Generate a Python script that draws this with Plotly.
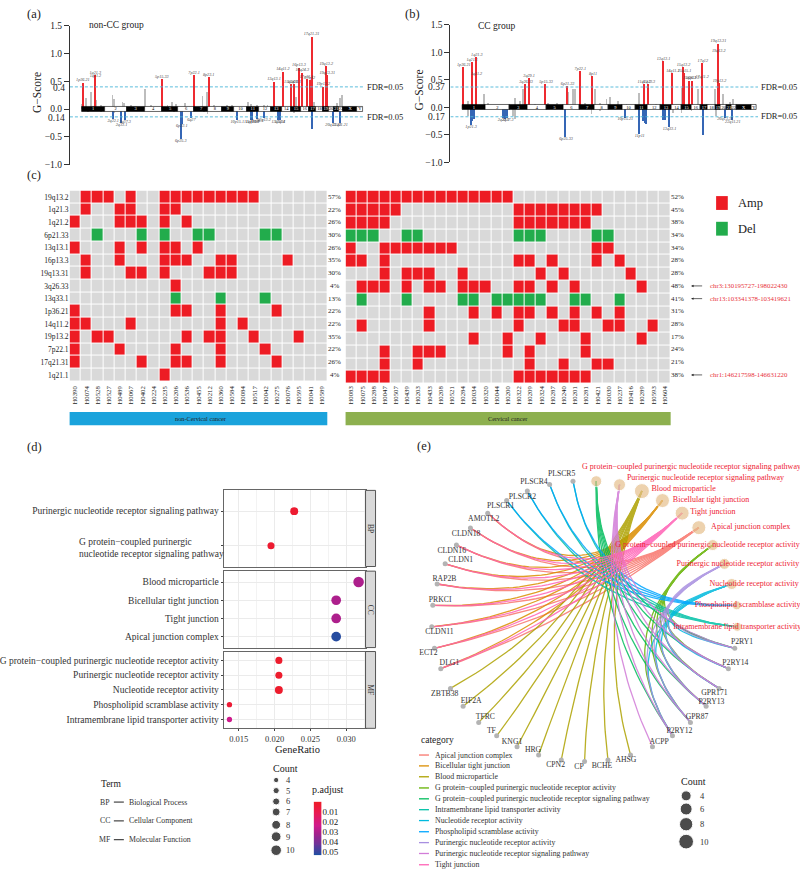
import numpy as np
import plotly.graph_objects as go

W, H = 800, 875
SERIF = "Liberation Serif"

# ---------- panels (a) and (b): genome profile ----------
CHROM_NAMES = [str(i) for i in range(1, 23)] + ["X", "Y"]
CHROM_MB = [249, 243, 198, 191, 181, 171, 159, 146, 141, 136, 135, 134, 115, 107, 103, 90, 81, 78, 59, 63, 48, 51, 155, 59]

A_RED_POS = [11, 147, 149, 880, 1236, 1397, 2116, 2215, 2303, 2340, 2391, 2428, 2475, 2512, 2530, 2659, 2692, 2703]
A_RED_VAL = [.48, .62, .55, .54, .62, .58, .5, .68, .45, .45, .75, .66, .54, .52, 1.31, .41, .78, .62]
A_RED_LAB = ["1p36.21", "1q21.3", "1q21.2", "5p15.33", "7p22.1", "8p23.1", "13q13.1", "14q11.2", "15q24.3", "15q26.1",
             "16p13.3", "16q24.3", "17p13.1", "17q12", "17q21.31", "19p13.2", "19q13.2", "19q13.31"]
A_BLUE_POS = [345, 436, 477, 1089, 1100, 1206, 1712, 1859, 1878, 1925, 2006, 2163, 2182, 2538, 2769, 2846]
A_BLUE_VAL = [-.17, -.25, -.2, -.53, -.26, -.155, -.2, -.2, -.2, -.17, -.155, -.2, -.19, -.345, -.245, -.25]
A_BLUE_LAB = ["2q22.1", "2q33.1", "2q37.3", "6p25.3", "6p22.1", "6q27", "10p15.1", "11q13.3", "11q13.4", "11q24.3",
              "12q13.2", "13q33.1", "13q34", "", "20q13.33", "22q11.21"]
A_GREY_POS = [0, 44, 103, 161, 209, 337, 356, 447, 466, 539, 697, 759, 887, 942, 990, 1034, 1137, 1327, 1375, 1456, 1602,
              1657, 1826, 1859, 1932, 2006, 2043, 2299, 2354, 2391, 2483, 2556, 2703, 2813, 2842, 2864,
              62, 209, 356, 1016, 1346, 1382, 1896, 2336, 2776]
A_GREY_VAL = [.1, .21, .31, .16, .07, .26, .18, .14, .12, .07, .37, .07, .1, .08, .13, .1, .11, .24, .32, .07, .08,
              .08, .13, .1, .08, .07, .07, .21, .23, .1, .13, .13, .29, .11, .2, .26,
              -.05, -.04, -.07, -.04, -.05, -.08, -.05, -.07, -.05]

B_RED_POS = [17, 105, 154, 150, 671, 703, 881, 1108, 1241, 1374, 1913, 1958, 2115, 2213, 2325, 2336, 2388, 2420, 2521, 2528, 2692, 2695, 2703]
B_RED_VAL = [.73, .83, .92, .57, .42, .54, .43, .39, .66, .57, .42, .42, .85, .63, .74, .63, .49, .49, .51, .81, 1.16, .99, .45]
B_RED_LAB = ["1p36.21", "1q21.1", "1q21.3", "1q21.2", "3q26.33", "3q29.1", "5p15.33", "6p21.33", "7p22.1", "8p11", "11q13.2",
             "11q13.3", "13q13.1", "14q11.2", "15q13.2", "15q15.1", "15q26.1", "16p13.3", "17q11.2", "17q12", "19q13.31", "19q13.2", "19p13.2"]
B_BLUE_POS = [94, 108, 129, 434, 455, 479, 1091, 1713, 1864, 1906, 1923, 1941, 2115, 2133, 2178, 2535, 2762, 2843]
B_BLUE_VAL = [-.31, -.24, -.21, -.19, -.21, -.19, -.54, -.18, -.48, -.24, -.27, -.3, -.22, -.22, -.35, -.5, -.18, -.23]
B_BLUE_LAB = ["1p21.3", "", "", "2q33.1", "", "2q37.3", "6p25.33", "10p15.21", "11p11", "", "", "", "", "", "13q33.1", "", "20q13.33", "22q11.21"]
B_GREY_POS = [17, 70, 234, 280, 559, 612, 647, 664, 769, 909, 997, 1119, 1171, 1192, 1294, 1399, 1451, 1521, 1556, 1643, 1731,
              1864, 2045, 2308, 2483, 2587, 2657, 2745, 2815, 2850,
              70, 542, 559, 1364, 1451, 2220, 2308, 2413, 2675]
B_GREY_VAL = [.21, .12, .24, .09, .18, .12, .33, .36, .06, .08, .08, .29, .33, .33, .09, .33, .09, .15, .2, .12, .06,
              .27, .06, .36, .33, .07, .33, .24, .11, .15,
              -.15, -.15, -.2, -.12, -.07, -.09, -.09, -.06, -.15]

# ---------- panel (c): heat maps ----------
CYTOBANDS = ["19q13.2", "1q21.3", "1q21.2", "6p21.33", "13q13.1", "16p13.3", "19q13.31", "3q26.33", "13q33.1",
             "1p36.21", "14q11.2", "19p13.2", "7p22.1", "17q21.31", "1q21.1"]
DELETION_BANDS = ["6p21.33", "13q33.1"]
LEFT_SAMPLES = ["H0390", "H0074", "H0528", "H0527", "H0489", "H0067", "H0402", "H0224", "H0235", "H0206", "H0536", "H0455",
                "H0212", "H0360", "H0584", "H0084", "H0517", "H0042", "H0275", "H0076", "H0595", "H0041", "H0589"]
RIGHT_SAMPLES = ["H0083", "H0075", "H0288", "H0047", "H0507", "H0439", "H0203", "H0433", "H0208", "H0521", "H0284", "H0034",
                 "H0320", "H0044", "H0200", "H0322", "H0209", "H0324", "H0287", "H0240", "H0201", "H0281", "H0421", "H0030",
                 "H0237", "H0416", "H0289", "H0593", "H0604"]
LEFT_HITS = [[1, 2, 3, 5, 8, 9, 10, 11, 12, 13, 14, 15, 16], [1, 4, 5, 8, 9], [0, 4, 5, 6, 8, 10], [2, 6, 8, 11, 12, 17, 18],
             [0, 4, 6, 8, 9, 11], [1, 4, 8, 9, 10, 13, 14, 19], [1, 5, 6, 8, 12, 13, 14], [9], [9, 13, 17], [0, 9, 10, 13, 18],
             [0, 1, 5, 13, 15], [0, 2, 3, 10, 12, 13, 16, 20], [0, 4, 9, 13, 17], [0, 6, 9, 10, 13, 18], [8]]
RIGHT_HITS = [list(range(15)), [0, 1, 2, 3, 4, 15, 16, 17, 18, 19, 20, 21, 22], [0, 1, 2, 3, 15, 16, 17, 18, 19, 20, 21],
              [0, 1, 2, 5, 6, 15, 16, 17, 22, 23], [0, 3, 4, 5, 6, 7, 8, 9, 22, 23], [0, 1, 3, 15, 16, 18, 22, 24],
              [3, 5, 6, 7, 10, 17, 19, 25], [1, 2, 3, 5, 7, 8, 10, 11, 12, 15, 16, 18, 20, 26],
              [1, 5, 10, 11, 13, 14, 15, 16, 17, 20, 21, 24], [7, 11, 13, 15, 16, 18, 20, 22, 24],
              [1, 7, 15, 19, 20, 23, 24, 27], [11, 14, 17, 21, 26], [3, 6, 7, 8, 14, 16, 21], [3, 6, 16, 19, 22, 23],
              [0, 1, 2, 3, 15, 16, 17, 18, 19, 20, 21]]
LEFT_PCT = ["57%", "22%", "26%", "30%", "26%", "35%", "30%", "4%", "13%", "22%", "22%", "35%", "22%", "26%", "4%"]
RIGHT_PCT = ["52%", "45%", "38%", "34%", "34%", "28%", "28%", "48%", "41%", "31%", "28%", "17%", "24%", "21%", "38%"]
REGION_NOTES = {"3q26.33": "chr3:130195727-198022430", "13q33.1": "chr13:103341378-103419621", "1q21.1": "chr1:146217598-146631220"}

# ---------- panel (d): dot plot ----------
BP_TERMS = ["Purinergic nucleotide receptor signaling pathway", "G protein−coupled purinergic nucleotide receptor signaling pathway"]
BP_RATIO = [.02274, .0195]
BP_COUNT = [7, 6]
BP_PADJ = [.003, .003]
CC_TERMS = ["Blood microparticle", "Bicellular tight junction", "Tight junction", "Apical junction complex"]
CC_RATIO = [.03173, .0286, .0286, .0286]
CC_COUNT = [10, 9, 9, 9]
CC_PADJ = [.03, .03, .03, .052]
MF_TERMS = ["G protein−coupled purinergic nucleotide receptor activity", "Purinergic nucleotide receptor activity",
            "Nucleotide receptor activity", "Phospholipid scramblase activity", "Intramembrane lipid transporter activity"]
MF_RATIO = [.0206, .0206, .0206, .0137, .0137]
MF_COUNT = [6, 6, 7, 4, 4]
MF_PADJ = [.002, .002, .002, .004, .024]
PADJ_TICKS = [.01, .02, .03, .04, .05]

# ---------- panel (e): gene-concept network ----------
GENES = ["PLSCR5", "PLSCR4", "PLSCR2", "PLSCR1", "AMOTL2", "CLDN18", "CLDN16", "CLDN1", "RAP2B", "PRKCI", "CLDN11", "ECT2", "DLG1",
         "ZBTB38", "EIF2A", "TFRC", "TF", "KNG1", "HRG", "CPN2", "CP", "BCHE", "AHSG", "ACPP", "P2RY12", "GPR87", "P2RY13", "GPR171",
         "P2RY14", "P2RY1"]
GENE_X = [572.7, 549.3, 527, 506.3, 487.3, 470, 456, 444.7, 436.7, 432.3, 431.3, 434, 440.3, 450, 462.7, 478.3, 496.3, 516.7, 538.3,
          561, 584.3, 607.7, 630.3, 652.3, 672.3, 690.3, 706, 719, 728.3, 734.7]
GENE_Y = [481.7, 485, 491.7, 501.3, 514, 529, 546.3, 565.3, 585.7, 607.3, 629, 650.7, 671.3, 691.3, 709.3, 725.7, 739.3, 750.3, 758.7,
          763.7, 765.3, 763.7, 758.7, 750.3, 739.3, 725.7, 709.3, 691.3, 671.3, 650.7]
GENE_LABEL_X = [561.3, 533.7, 522, 500.3, 483.3, 465.7, 451.3, 460.3, 444, 439.7, 439, 428, 449, 444.3, 470.7, 485, 491, 511.7, 532.7,
                555.3, 578.7, 601.7, 625.7, 659, 679.3, 697, 711.3, 714.3, 735.3, 742]
GENE_LABEL_Y = [475, 482.3, 497.3, 507.3, 519.7, 534.7, 552, 561.7, 580.3, 601.7, 634.3, 656, 665.7, 697, 704.3, 720.3, 734.3, 745.3,
                753.3, 769.3, 771, 769.7, 764.3, 745.3, 734, 720, 705.3, 695.7, 665.7, 644]
NET_TERMS = ["G protein−coupled purinergic nucleotide receptor signaling pathway", "Purinergic nucleotide receptor signaling pathway",
             "Blood microparticle", "Bicellular tight junction", "Tight junction", "Apical junction complex",
             "G protein−coupled purinergic nucleotide receptor activity", "Purinergic nucleotide receptor activity",
             "Nucleotide receptor activity", "Phospholipid scramblase activity", "Intramembrane lipid transporter activity"]
NET_X = [596, 619.3, 641.7, 662.3, 682, 698.7, 712.7, 724.3, 731.7, 736.7, 737.3]
NET_Y = [481.7, 485.3, 491.7, 501.3, 514, 528.7, 546.3, 565.3, 585.7, 607.3, 629]
NET_COUNT = [6, 7, 10, 9, 9, 9, 6, 6, 6, 4, 4]
NET_LABEL_X = [581.7, 626.7, 651.3, 672.7, 690, 711, 615, 676.3, 709.3, 694.7, 673]
NET_LABEL_Y = [467.7, 478.7, 490, 501, 513.3, 528.3, 546.3, 565.3, 585.7, 607.3, 629]
JUNCTION = ["AMOTL2", "CLDN18", "CLDN16", "CLDN1", "RAP2B", "PRKCI", "CLDN11", "ECT2", "DLG1"]
BLOOD = ["ZBTB38", "EIF2A", "TFRC", "TF", "KNG1", "HRG", "CPN2", "CP", "BCHE", "AHSG"]
P2 = ["P2RY12", "GPR87", "P2RY13", "GPR171", "P2RY14", "P2RY1"]
SCRAMBLASE = ["PLSCR1", "PLSCR2", "PLSCR4", "PLSCR5"]
CATEGORY_ORDER = ["Apical junction complex", "Bicellular tight junction", "Blood microparticle",
                  "G protein−coupled purinergic nucleotide receptor activity",
                  "G protein−coupled purinergic nucleotide receptor signaling pathway",
                  "Intramembrane lipid transporter activity", "Nucleotide receptor activity", "Phospholipid scramblase activity",
                  "Purinergic nucleotide receptor activity", "Purinergic nucleotide receptor signaling pathway", "Tight junction"]
CATEGORY_COLOR = ["#F8766D", "#DB8E00", "#AEA200", "#64B200", "#00BD5C", "#00C1A7", "#00BADE", "#00A6FF", "#A88FE0", "#D27CD8", "#FF63B6"]
CATEGORY_GENES = [JUNCTION, JUNCTION, BLOOD, P2, P2, SCRAMBLASE, P2, SCRAMBLASE, P2, ["ACPP"] + P2, JUNCTION]
NET_CENTER = (585, 623)
LEGEND_Y = [758.7, 769.7, 780.7, 792, 803, 814, 825, 836.3, 847.3, 858.3, 869.7]

# ---------- helpers ----------
def xd(a, b):
    return [a / W, b / W]

def yd(top, bot):
    return [1 - bot / H, 1 - top / H]

def px(x):
    return x / W

def py(y):
    return 1 - y / H

fig = go.Figure()
annos, shapes = [], []

def note(x, y, text, size=9, color="#222", anchor="center", angle=0, yref="paper", yval=None, align=None, **kw):
    annos.append(dict(x=px(x), y=py(y) if yval is None else yval, xref="paper", yref=yref, text=text, showarrow=False,
                      xanchor=anchor, yanchor="middle", textangle=angle, align=align or anchor,
                      font=dict(size=size, color=color, family=SERIF), **kw))

def rect(x0, y0, x1, y1, fill, line=None, lw=0):
    shapes.append(dict(type="rect", xref="paper", yref="paper", x0=px(x0), x1=px(x1), y0=py(y1), y1=py(y0),
                       fillcolor=fill, line=dict(color=line or fill, width=lw)))

def hline(x0, x1, y, color="#444", lw=1.2):
    shapes.append(dict(type="line", xref="paper", yref="paper", x0=px(x0), x1=px(x1), y0=py(y), y1=py(y), line=dict(color=color, width=lw)))

# ---------- genome panels ----------
def genome(ax, xdom, ydom, x_left, fdr_up, fdr_dn, red, blue, grey, title, title_x, title_y, xright):
    xa, ya = ("x" + ax, "y" + ax)
    lay = dict(
        domain=xdom, range=[x_left, 3095 + (xright)], visible=False, fixedrange=True, anchor=ya)
    fig.layout["xaxis" + ax] = lay
    fig.layout["yaxis" + ax] = dict(domain=ydom, range=[-1, 1.5], tickvals=[1.5, 1, .5, 0, -.5, -1],
                                    ticktext=["1.5", "1.0", "0.5", "0.0", "−0.5", "−1.0"], ticks="outside", ticklen=5,
                                    linecolor="#333", linewidth=1, tickcolor="#333", showgrid=False, zeroline=False,
                                    tickfont=dict(size=9.5, family=SERIF, color="#222"), anchor=xa, fixedrange=True)
    for series, color, w in [(grey, "#bdbdbd", 9), (red, "#ee2a30", 13), (blue, "#3566b5", 13)]:
        fig.add_trace(go.Bar(x=series[0], y=series[1], width=w, marker=dict(color=color, line=dict(width=0)), xaxis=xa, yaxis=ya,
                             showlegend=False, hoverinfo="skip"))
    starts = np.concatenate([[0], np.cumsum(CHROM_MB)[:-1]])
    mids = starts + np.array(CHROM_MB) / 2
    colors = ["#000" if i % 2 == 0 else "#fff" for i in range(24)]
    fig.add_trace(go.Bar(x=mids, y=[.09] * 24, base=-.048, width=CHROM_MB,
                         marker=dict(color=colors, line=dict(color="#000", width=.6)), xaxis=xa, yaxis=ya, showlegend=False, hoverinfo="skip"))
    fig.add_trace(go.Scatter(x=mids, y=[0] * 24, mode="text", text=CHROM_NAMES,
                             textfont=dict(size=4.5, family=SERIF, color=["#fff" if i % 2 == 0 else "#000" for i in range(24)]),
                             xaxis=xa, yaxis=ya, showlegend=False, hoverinfo="skip"))
    for lv in (fdr_up, -fdr_dn):
        fig.add_trace(go.Scatter(x=[x_left, 3095 + xright], y=[lv, lv], mode="lines", line=dict(color="#4ab6d8", width=.9, dash="3px,2px"),
                                 xaxis=xa, yaxis=ya, showlegend=False, hoverinfo="skip"))
    fig.add_trace(go.Scatter(x=red[0], y=red[1], text=red[2], mode="text", textposition="top center",
                             textfont=dict(size=4.2, family=SERIF, color="#444", style="italic"), xaxis=xa, yaxis=ya, showlegend=False, hoverinfo="skip"))
    fig.add_trace(go.Scatter(x=blue[0], y=blue[1], text=blue[2], mode="text", textposition="bottom center",
                             textfont=dict(size=4.2, family=SERIF, color="#444", style="italic"), xaxis=xa, yaxis=ya, showlegend=False, hoverinfo="skip"))
    note(title_x, title_y, title, size=9.5, anchor="left")


genome("", xd(69, 363), yd(21, 161.5), -132, .4, .14,
       (A_RED_POS, A_RED_VAL, A_RED_LAB), (A_BLUE_POS, A_BLUE_VAL, A_BLUE_LAB), (A_GREY_POS, A_GREY_VAL), "non-CC group", 86, 20, 8)
genome("2", xd(450, 758), yd(20, 159.3), -123, .37, .17,
       (B_RED_POS, B_RED_VAL, B_RED_LAB), (B_BLUE_POS, B_BLUE_VAL, B_BLUE_LAB), (B_GREY_POS, B_GREY_VAL), "CC group", 476, 21, 13)

note(36, 88, "G−Score", size=11.5, angle=-90)
note(419, 86, "G−Score", size=11.5, angle=-90)
note(66, 84, "0.4", size=9.5, anchor="right")
note(66, 114, "0.14", size=9.5, anchor="right")
note(447, 83, "0.37", size=9.5, anchor="right")
note(447, 113.5, "0.17", size=9.5, anchor="right")
for xx, yy in [(364, 83), (364, 113), (759, 82.5), (759, 112.5)]:
    note(xx, yy, "FDR=0.05", size=8.5, anchor="left")

# ---------- heat maps ----------
def matrix(hits, n):
    return [[(2 if band in DELETION_BANDS else 1) if c in row else 0 for c in range(n)] for band, row in zip(CYTOBANDS, hits)]

CELL_SCALE = [[0, "#d9d9d9"], [.33, "#d9d9d9"], [.34, "#ed1c24"], [.66, "#ed1c24"], [.67, "#22ac4c"], [1, "#22ac4c"]]

def heat(ax, xdom, samples, hits, show_rows):
    xa, ya = "x" + ax, "y" + ax
    fig.add_trace(go.Heatmap(z=matrix(hits, len(samples)), x=samples, y=CYTOBANDS, zmin=0, zmax=2, colorscale=CELL_SCALE, showscale=False,
                             xgap=1, ygap=1, xaxis=xa, yaxis=ya, hoverinfo="skip"))
    fig.layout["xaxis" + ax] = dict(domain=xdom, anchor=ya, type="category", tickmode="array", tickvals=samples, ticktext=samples,
                                    tickangle=-90, tickfont=dict(size=6.7, family=SERIF, color="#222"), ticklen=0, showline=False,
                                    showgrid=False, zeroline=False, fixedrange=True)
    fig.layout["yaxis" + ax] = dict(domain=yd(187.7, 383.3), anchor=xa, type="category", autorange="reversed", tickmode="array",
                                    tickvals=CYTOBANDS, ticktext=CYTOBANDS, showticklabels=show_rows,
                                    tickfont=dict(size=7.5, family=SERIF, color="#222"), ticklen=0, showline=False, showgrid=False,
                                    zeroline=False, fixedrange=True)

heat("3", xd(68.7, 326.7), LEFT_SAMPLES, LEFT_HITS, True)
heat("4", xd(345, 670), RIGHT_SAMPLES, RIGHT_HITS, False)

for band, a, b in zip(CYTOBANDS, LEFT_PCT, RIGHT_PCT):
    note(334, 0, a, size=7, yref="y3", yval=band)
    note(677, 0, b, size=7, yref="y3", yval=band)
    if band in REGION_NOTES:
        note(708, 0, REGION_NOTES[band], size=6.8, color="#e8323a", anchor="left", yref="y3", yval=band)
        annos.append(dict(x=px(691), y=band, xref="paper", yref="y3", ax=14, ay=0, text=" ", showarrow=True, arrowhead=2, arrowsize=.7,
                          arrowwidth=.7, arrowcolor="#222", standoff=0, startstandoff=0))

rect(68.7, 411.7, 326.7, 425, "#1aa3dc")
rect(345, 411.7, 670.5, 425, "#8db04f")
note(200, 418.5, "non-Cervical cancer", size=6.3)
note(508, 418.5, "Cervical cancer", size=6.3)
rect(716, 193.3, 727.7, 207.3, "#ed1c24")
rect(716, 219.3, 727.7, 233.3, "#22ac4c")
note(735.5, 200.5, "Amp", size=12.5, anchor="left")
note(735.5, 227, "Del", size=12.5, anchor="left")

# ---------- dot plot ----------
PAD_SCALE = [[0, "#ee1c25"], [.2, "#ea1a50"], [.45, "#cf1a8c"], [.6, "#a3218c"], [.8, "#6d3499"], [1, "#1f4ea1"]]
PAD_MAX = .053

def dot_size(c):
    return 5.3 + (np.array(c, dtype=float) - 4) * .88

X_RANGE = [.0129, .0327]

def facet(ax, ydom, terms, ratio, count, padj, bottom):
    xa, ya = "x" + ax, "y" + ax
    fig.add_trace(go.Scatter(x=ratio, y=terms, mode="markers", xaxis=xa, yaxis=ya, showlegend=False, hoverinfo="skip",
                             marker=dict(size=dot_size(count), color=padj, cmin=0, cmax=PAD_MAX, colorscale=PAD_SCALE, line=dict(width=0), opacity=1)))
    fig.layout["xaxis" + ax] = dict(domain=xd(223, 365), anchor=ya, range=X_RANGE, showgrid=True, gridcolor="#ebebeb", gridwidth=1,
                                    tickvals=[.015, .02, .025, .03], ticktext=["0.015", "0.020", "0.025", "0.030"], zeroline=False,
                                    minor=dict(showgrid=True, gridcolor="#f3f3f3", gridwidth=1, tickvals=[.0175, .0225, .0275, .0325]),
                                    showticklabels=bottom, ticks="outside" if bottom else "", ticklen=2, tickcolor="#444",
                                    tickfont=dict(size=8.5, family=SERIF, color="#333"), showline=True, mirror=True,
                                    linecolor="#666", linewidth=1, fixedrange=True)
    n = len(terms)
    shown = ["" if t.startswith("G protein") and t.endswith("signaling pathway") else t for t in terms]
    fig.layout["yaxis" + ax] = dict(domain=ydom, anchor=xa, type="category", categoryorder="array", categoryarray=terms, tickmode="array",
                                    tickvals=terms, ticktext=shown, range=[n - 1 + .6, -.6], showgrid=True, gridcolor="#ebebeb", zeroline=False,
                                    ticks="outside", ticklen=2, tickcolor="#444", tickfont=dict(size=9.5, family=SERIF, color="#333"),
                                    showline=True, mirror=True, linecolor="#666", linewidth=1, fixedrange=True)

FACET_Y = [(491, 568), (572.7, 650), (654, 731.7)]
facet("5", yd(*FACET_Y[0]), BP_TERMS, BP_RATIO, BP_COUNT, BP_PADJ, False)
facet("6", yd(*FACET_Y[1]), CC_TERMS, CC_RATIO, CC_COUNT, CC_PADJ, False)
facet("7", yd(*FACET_Y[2]), MF_TERMS, MF_RATIO, MF_COUNT, MF_PADJ, True)

for name, (t0, b0) in zip(["BP", "CC", "MF"], FACET_Y):
    rect(365, t0, 375, b0, "#d9d9d9", "#555", 1)
    note(370, (t0 + b0) / 2, name, size=7.5, angle=90, color="#333")
note(76.5, 549.5, "G protein−coupled purinergic<br>nucleotide receptor signaling pathway", size=9.5, anchor="left", align="left", color="#333")
note(296.5, 753, "GeneRatio", size=10.5, color="#222")

# p.adjust scale: reversed, so a small heat map on its own reversed axis
grad = np.linspace(0, PAD_MAX, 60)
fig.add_trace(go.Heatmap(z=grad.reshape(-1, 1), y=grad, x=[0], zmin=0, zmax=PAD_MAX, colorscale=PAD_SCALE, showscale=False,
                         xaxis="x9", yaxis="y9", hoverinfo="skip"))
fig.layout.xaxis9 = dict(domain=xd(313, 321), anchor="y9", visible=False, fixedrange=True)
fig.layout.yaxis9 = dict(domain=yd(806, 860), anchor="x9", side="right", range=[PAD_MAX, 0], tickvals=PADJ_TICKS,
                         ticktext=["%.2f" % v for v in PADJ_TICKS], ticks="", showgrid=False, zeroline=False, showline=False,
                         tickfont=dict(size=9, family=SERIF, color="#222"), fixedrange=True)

note(327, 794, "p.adjust", size=10)
note(285, 772, "Count", size=10)
note(111, 788, "Term", size=9.5)
for (code, label), yy in zip([("BP", "Biological Process"), ("CC", "Cellular Component"), ("MF", "Molecular Function")], [806.3, 825.3, 844.3]):
    note(104.5, yy, code, size=7.8, color="#333")
    hline(113, 123, yy)
    note(126, yy, label, size=7.8, color="#333", anchor="left")

# ---------- network + overlay items ----------
fig.layout.xaxis8 = dict(domain=[0, 1], range=[0, W], visible=False, fixedrange=True, anchor="y8")
fig.layout.yaxis8 = dict(domain=[0, 1], range=[H, 0], visible=False, fixedrange=True, anchor="x8")

gene_pos = dict(zip(GENES, zip(GENE_X, GENE_Y)))
term_pos = dict(zip(NET_TERMS, zip(NET_X, NET_Y)))
t = np.linspace(0, 1, 40)
for cat, col, members in zip(CATEGORY_ORDER, CATEGORY_COLOR, CATEGORY_GENES):
    xs, ys = [], []
    tx, ty = term_pos[cat]
    for g in members:
        gx, gy = gene_pos[g]
        mx, my = (tx + gx) / 2, (ty + gy) / 2
        cx, cy = mx + .85 * (NET_CENTER[0] - mx), my + .85 * (NET_CENTER[1] - my)
        xs += list((1 - t) ** 2 * tx + 2 * t * (1 - t) * cx + t ** 2 * gx) + [None]
        ys += list((1 - t) ** 2 * ty + 2 * t * (1 - t) * cy + t ** 2 * gy) + [None]
    fig.add_trace(go.Scatter(x=xs, y=ys, mode="lines", line=dict(color=col, width=1.3), opacity=.85, xaxis="x8", yaxis="y8",
                             showlegend=False, hoverinfo="skip"))

def net_size(c):
    return 9 + (np.array(c, dtype=float) - 4)

fig.add_trace(go.Scatter(x=GENE_X, y=GENE_Y, mode="markers", marker=dict(size=5, color="#b3b3b3"), xaxis="x8", yaxis="y8", showlegend=False, hoverinfo="skip"))
fig.add_trace(go.Scatter(x=NET_X, y=NET_Y, mode="markers", marker=dict(size=net_size(NET_COUNT), color="#e6c08c"), xaxis="x8", yaxis="y8", showlegend=False, hoverinfo="skip"))
fig.add_trace(go.Scatter(x=GENE_LABEL_X, y=GENE_LABEL_Y, text=GENES, mode="text", textposition="middle center",
                         textfont=dict(size=7.7, family=SERIF, color="#333"), xaxis="x8", yaxis="y8", showlegend=False, hoverinfo="skip"))
fig.add_trace(go.Scatter(x=NET_LABEL_X, y=NET_LABEL_Y, text=NET_TERMS, mode="text", textposition="middle right",
                         textfont=dict(size=8, family=SERIF, color="#ee2233"), xaxis="x8", yaxis="y8", showlegend=False, hoverinfo="skip"))

note(437, 744, "category", size=9.5)
for cat, col, yy in zip(CATEGORY_ORDER, CATEGORY_COLOR, LEGEND_Y):
    hline(418.5, 428.5, yy, color=col, lw=1.3)
    note(433, yy, cat, size=7.85, color="#333", anchor="left")

# dot-size legends
D_LEGEND_COUNT = [4, 5, 6, 7, 8, 9, 10]
D_LEGEND_Y = [784, 794.7, 805.7, 816.3, 829.3, 841.3, 855]
fig.add_trace(go.Scatter(x=[275.5] * 7, y=D_LEGEND_Y, mode="markers", marker=dict(size=dot_size(D_LEGEND_COUNT), color="#000"),
                         xaxis="x8", yaxis="y8", showlegend=False, hoverinfo="skip"))
for c, yy in zip(D_LEGEND_COUNT, D_LEGEND_Y):
    note(283, yy, str(c), size=8.5, color="#333", anchor="left")
E_LEGEND_COUNT = [4, 6, 8, 10]
E_LEGEND_Y = [800, 813.3, 828.7, 846.3]
fig.add_trace(go.Scatter(x=[686] * 4, y=E_LEGEND_Y, mode="markers", marker=dict(size=[10, 12, 13.3, 14.7], color="#000"),
                         xaxis="x8", yaxis="y8", showlegend=False, hoverinfo="skip"))
for c, yy in zip(E_LEGEND_COUNT, E_LEGEND_Y):
    note(698, yy, str(c), size=8.5, color="#333", anchor="left")
note(693.7, 785, "Count", size=10)

for txt, xx, yy in [("(a)", 33, 9), ("(b)", 412, 9), ("(c)", 33, 172), ("(d)", 34, 446.7), ("(e)", 424, 446)]:
    note(xx, yy, txt, size=12.5)

fig.update_layout(width=W, height=H, autosize=False, margin=dict(l=0, r=0, t=0, b=0), paper_bgcolor="white", plot_bgcolor="rgba(0,0,0,0)",
                  barmode="overlay", bargap=0, showlegend=False, font=dict(family=SERIF), annotations=annos, shapes=shapes)
fig.write_html("out.html", config={"displayModeBar": False}, post_script="document.body.style.margin='0';document.body.style.overflow='hidden';")
